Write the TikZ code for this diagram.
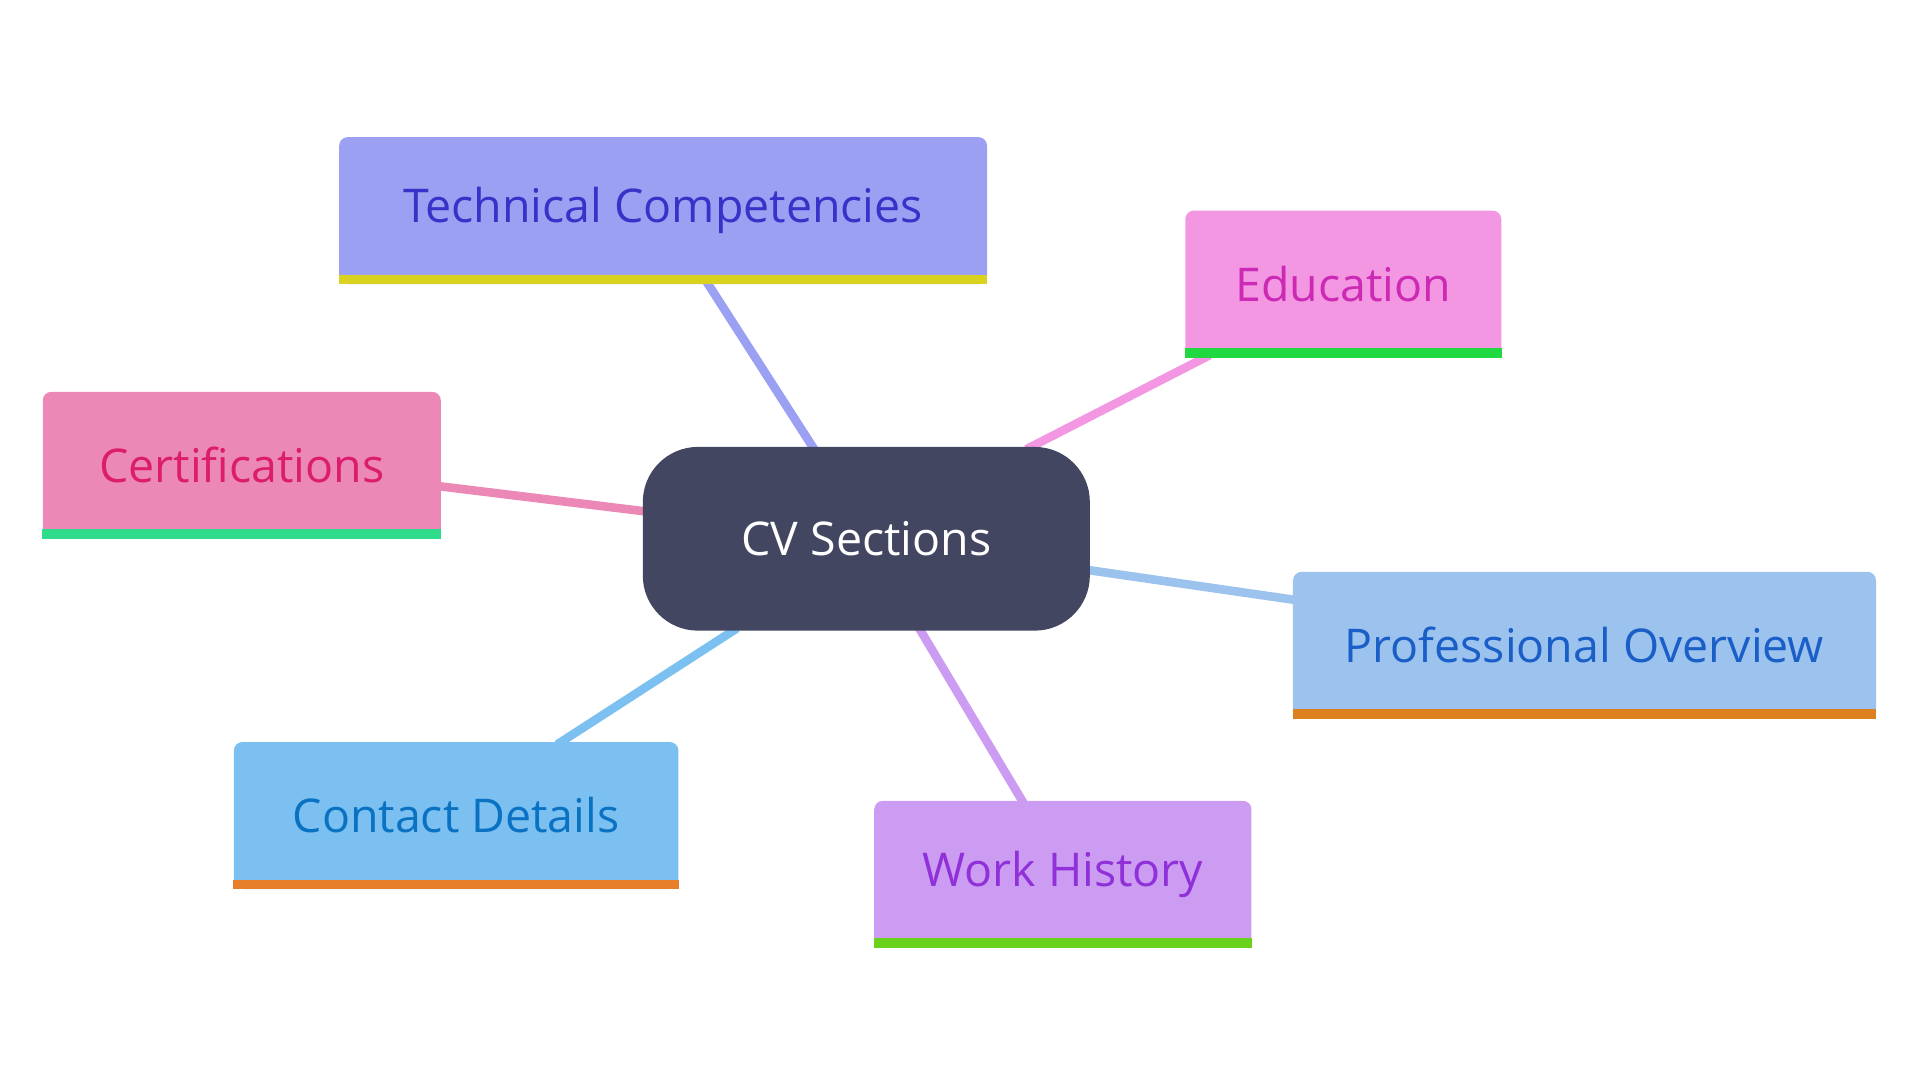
\documentclass[tikz,border=0pt]{standalone}
\usepackage{fontspec}
\setmainfont{Open Sans}
\begin{document}
\begin{tikzpicture}[x=0.025cm,y=-0.025cm,
  box/.style={rounded corners=5pt,inner sep=0pt,minimum height=3cm,font=\fontsize{27}{30}\selectfont},
  edge/.style={line width=5pt}]
\useasboundingbox (0,0) rectangle (1568,882);
\definecolor{cen}{HTML}{424660}
\definecolor{tf}{HTML}{9CA0F2}\definecolor{tt}{HTML}{3A32C8}\definecolor{tb}{HTML}{D9D21F}
\definecolor{ef}{HTML}{F397E3}\definecolor{et}{HTML}{CC2AB4}\definecolor{eb}{HTML}{20D840}
\definecolor{cf}{HTML}{EC88B6}\definecolor{ct}{HTML}{DC1C6C}\definecolor{cb}{HTML}{2EDC8C}
\definecolor{pf}{HTML}{9CC2EE}\definecolor{pt}{HTML}{1A5EC8}\definecolor{pb}{HTML}{DC8020}
\definecolor{kf}{HTML}{7CC0F2}\definecolor{kt}{HTML}{0A72C2}\definecolor{kb}{HTML}{E67E2A}
\definecolor{wf}{HTML}{CC9CF2}\definecolor{wt}{HTML}{9030D8}\definecolor{wb}{HTML}{6AD21A}
% edges first
\coordinate (c) at (707,440);
\coordinate (et1) at (577,230); \coordinate (et2) at (665,367);
\coordinate (ee1) at (988,290); \coordinate (ee2) at (838,367);
\coordinate (ec1) at (358,397); \coordinate (ec2) at (530,418);
\coordinate (ep1) at (1058,490); \coordinate (ep2) at (885,465);
\coordinate (ek1) at (455,608); \coordinate (ek2) at (602,513);
\coordinate (ew1) at (836,656); \coordinate (ew2) at (750,512);
\draw[edge,tf] (et1) -- (et2);
\draw[edge,ef] (ee1) -- (ee2);
\draw[edge,cf] (ec1) -- (ec2);
\draw[edge,pf] (ep1) -- (ep2);
\draw[edge,kf] (ek1) -- (ek2);
\draw[edge,wf] (ew1) -- (ew2);
\node[box,fill=cen,text=white,rounded corners=32pt,minimum width=9.125cm,minimum height=3.75cm] (center) at (707.5,440) {CV Sections};
\node[box,fill=tf,text=tt,minimum width=13.225cm] (tech) at (541.5,172) {Technical Competencies};
\fill[tb] (tech.south west) rectangle ([yshift=0.2cm]tech.south east);
\node[box,fill=ef,text=et,minimum width=6.45cm] (edu) at (1097,232) {Education};
\fill[eb] (edu.south west) rectangle ([yshift=0.2cm]edu.south east);
\node[box,fill=cf,text=ct,minimum width=8.125cm] (cert) at (197.5,380) {Certifications};
\fill[cb] (cert.south west) rectangle ([yshift=0.2cm]cert.south east);
\node[box,fill=pf,text=pt,minimum width=11.9cm] (prof) at (1294,527) {Professional Overview};
\fill[pb] (prof.south west) rectangle ([yshift=0.2cm]prof.south east);
\node[box,fill=kf,text=kt,minimum width=9.075cm] (cont) at (372.5,666) {Contact Details};
\fill[kb] (cont.south west) rectangle ([yshift=0.2cm]cont.south east);
\node[box,fill=wf,text=wt,minimum width=7.7cm] (work) at (868,714) {Work History};
\fill[wb] (work.south west) rectangle ([yshift=0.2cm]work.south east);
\end{tikzpicture}
\end{document}
